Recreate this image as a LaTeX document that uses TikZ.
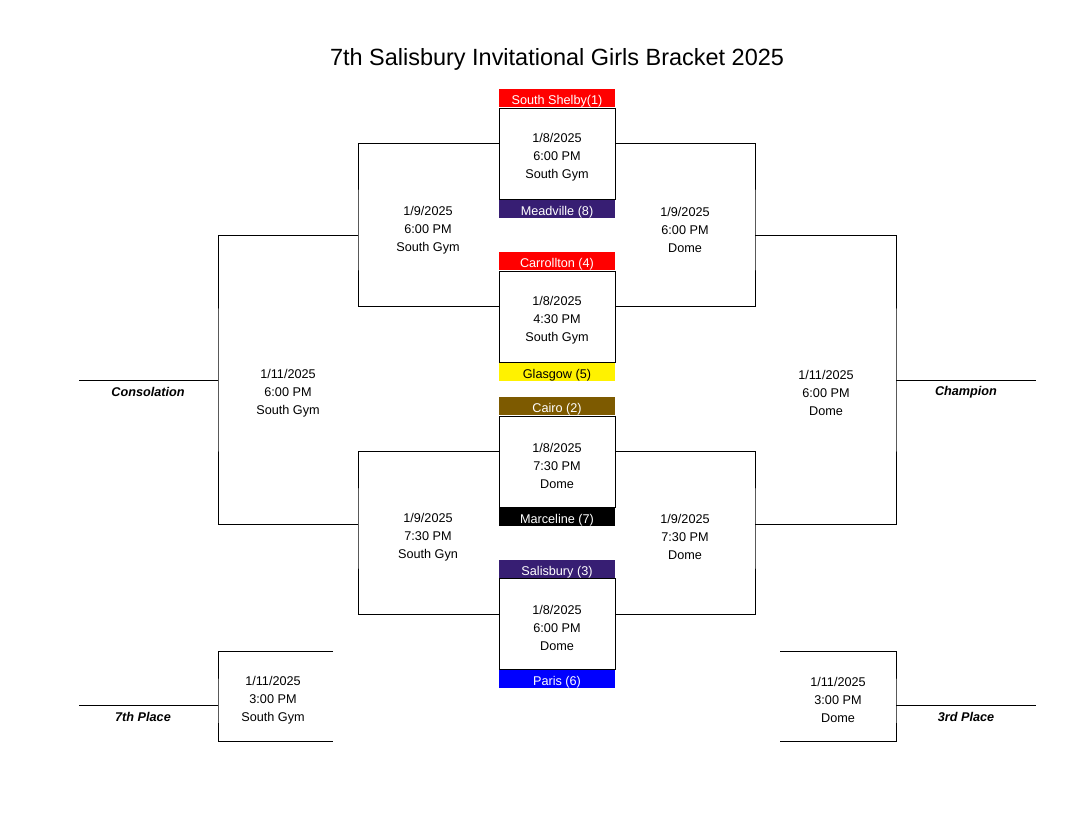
\documentclass[tikz,border=0pt]{standalone}
\usepackage{fontspec}
\setmainfont{Liberation Sans}
\usetikzlibrary{positioning}
\definecolor{meadpurple}{RGB}{55,30,115}
\definecolor{cairobrown}{RGB}{125,90,0}
\newcommand\gameinfo[3]{\rule{0pt}{13pt}#1\\#2\\#3}

\begin{document}
\begin{tikzpicture}[x=0.75pt,y=-0.75pt,line width=0.6pt,
    gamebox/.style={draw,fill=white,minimum width=87pt,minimum height=68.25pt,inner sep=0pt,align=center,font=\fontsize{9.5}{13.5}\selectfont},
    team/.style={minimum width=87pt,minimum height=13.5pt,inner sep=0pt,text height=10pt,text depth=0pt,text=white,font=\fontsize{9.5}{11}\selectfont},
    info/.style={align=center,font=\fontsize{9.5}{13.5}\selectfont},
    place/.style={font=\fontsize{9.5}{11}\selectfont\bfseries\itshape}]
    \useasboundingbox (0,0) rectangle (1079,814);
    \node[font=\fontsize{17.6}{20}\selectfont] (title) at (557,59) {7th Salisbury Invitational Girls Bracket 2025};

    % first round
    \node[gamebox] (g1) at (557,153.5) {\gameinfo{1/8/2025}{6:00 PM}{South Gym}};
    \node[team,fill=red,above=0pt of g1] (t1) {South Shelby(1)};
    \node[team,fill=meadpurple,below=0pt of g1] (t8) {Meadville (8)};
    \node[gamebox] (g2) at (557,316.5) {\gameinfo{1/8/2025}{4:30 PM}{South Gym}};
    \node[team,fill=red,above=0pt of g2] (t4) {Carrollton (4)};
    \node[team,fill=yellow,text=black,below=0pt of g2] (t5) {Glasgow (5)};
    \node[gamebox] (g3) at (557,461.5) {\gameinfo{1/8/2025}{7:30 PM}{Dome}};
    \node[team,fill=cairobrown,above=0pt of g3] (t2) {Cairo (2)};
    \node[team,fill=black,below=0pt of g3] (t7) {Marceline (7)};
    \node[gamebox] (g4) at (557,624) {\gameinfo{1/8/2025}{6:00 PM}{Dome}};
    \node[team,fill=meadpurple,above=0pt of g4] (t3) {Salisbury (3)};
    \node[team,fill=blue,below=0pt of g4] (t6) {Paris (6)};

    % second round
    \coordinate (wl1) at (358,235);
    \coordinate (wr1) at (755,235);
    \coordinate (wl2) at (358,524);
    \coordinate (wr2) at (755,524);
    \draw ([yshift=7.5pt]g1.west) -| (wl1) |- ([yshift=7.5pt]g2.west);
    \draw ([yshift=7.5pt]g1.east) -| (wr1) |- ([yshift=7.5pt]g2.east);
    \draw ([yshift=7.5pt]g3.west) -| (wl2) |- ([yshift=7.5pt]g4.west);
    \draw ([yshift=7.5pt]g3.east) -| (wr2) |- ([yshift=7.5pt]g4.east);
    \node[info] (i1) at (428,230) {1/9/2025\\6:00 PM\\South Gym};
    \node[info] (i2) at (685,230) {1/9/2025\\6:00 PM\\Dome};
    \node[info] (i3) at (428,537) {1/9/2025\\7:30 PM\\South Gyn};
    \node[info] (i4) at (685,537) {1/9/2025\\7:30 PM\\Dome};

    % finals
    \coordinate (cl) at (218,380);
    \coordinate (cr) at (896,380);
    \coordinate (cle) at (79,380);
    \coordinate (cre) at (1036,380);
    \draw (wl1) -| (cl) |- (wl2);
    \draw (wr1) -| (cr) |- (wr2);
    \draw (cl) -- (cle);
    \draw (cr) -- (cre);
    \node[info] (i5) at (288,393) {1/11/2025\\6:00 PM\\South Gym};
    \node[info] (i6) at (826,393) {1/11/2025\\6:00 PM\\Dome};
    \node[place] (cons) at (148,392) {Consolation};
    \node[place] (champ) at (966,392) {Champion};

    % placing games
    \coordinate (pl1) at (333,651);
    \coordinate (pl2) at (333,741);
    \coordinate (pl) at (218,705);
    \coordinate (ple) at (79,705);
    \coordinate (pr1) at (780,651);
    \coordinate (pr2) at (780,741);
    \coordinate (pr) at (896,705);
    \coordinate (pre) at (1036,705);
    \draw (pl1) -| (pl) |- (pl2);
    \draw (pl) -- (ple);
    \draw (pr1) -| (pr) |- (pr2);
    \draw (pr) -- (pre);
    \node[info] (i7) at (273,700) {1/11/2025\\3:00 PM\\South Gym};
    \node[info] (i8) at (838,700) {1/11/2025\\3:00 PM\\Dome};
    \node[place] (seventh) at (143,717) {7th Place};
    \node[place] (third) at (966,717) {3rd Place};
\end{tikzpicture}
\end{document}
